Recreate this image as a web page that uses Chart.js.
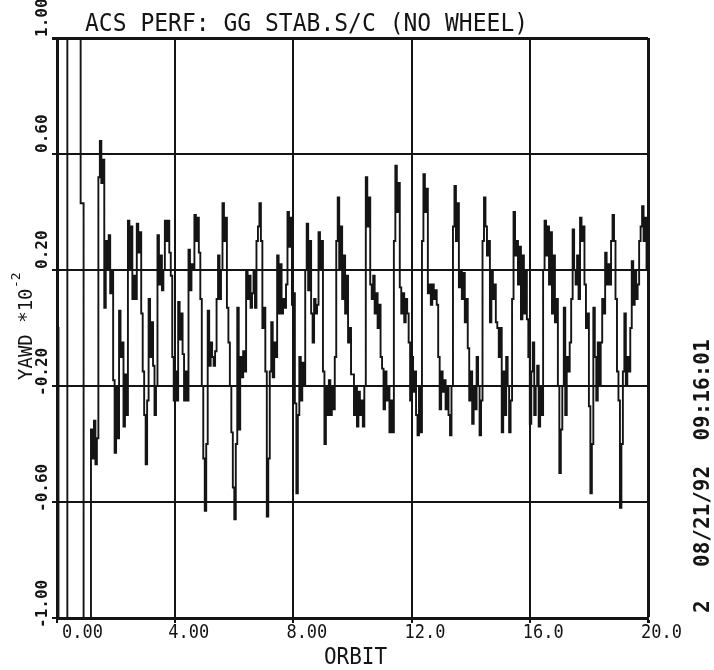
<!DOCTYPE html>
<html>
<head>
<meta charset="utf-8">
<script src="https://cdn.jsdelivr.net/npm/chart.js@4.4.1/dist/chart.umd.min.js"></script>
<style>
  html, body { margin: 0; padding: 0; background: #fff; }
  #wrap { width: 714px; height: 670px; position: relative; }
</style>
</head>
<body>
<div id="wrap"><canvas id="yawChart"></canvas></div>
<script>
// sample spacing of the plotted trace, in orbits
const SAMPLE_STEP = 0.05;

const xTicks = [0, 4, 8, 12, 16, 20];
const xTickLabels = ['0.00', '4.00', '8.00', '12.0', '16.0', '20.0'];
const yTicks = [-1, -0.6, -0.2, 0.2, 0.6, 1];
const yTickLabels = ['-1.00', '-0.60', '-0.20', '0.20', '0.60', '1.00'];

const titleText = 'ACS PERF: GG STAB.S/C (NO WHEEL)';
const xTitle = 'ORBIT';
const yTitle = 'YAWD *10';
const yTitleExp = '-2';
const stampText = '08/21/92  09:16:01';
const pageText = '2';

// YAWD (x1e-2), one row per orbit, 20 samples per orbit
const yawd = [
  0.0, -1.6, -1.6, -1.6, -1.6, -1.6, -1.6, 1.6, 1.6, 1.6, 1.6, 1.6, 1.6, 1.6, 1.6, 1.6, 0.43, 0.43, -1.6, -1.6,
  -1.6, -1.6, -1.6, -0.35, -0.45, -0.32, -0.47, -0.38, 0.52, 0.645, 0.5, 0.58, 0.07, 0.3, 0.2, 0.32, 0.12, 0.2, -0.18, -0.43,
  -0.2, -0.38, 0.06, -0.1, -0.05, -0.34, -0.16, -0.3, 0.37, 0.2, 0.35, 0.1, 0.18, 0.1, 0.36, 0.26, 0.33, 0.05, -0.15, -0.3,
  -0.47, -0.25, 0.1, -0.1, 0.02, -0.13, -0.3, -0.2, 0.32, 0.15, 0.25, 0.13, 0.2, 0.37, 0.3, 0.37, 0.26, 0.18, -0.1, -0.25,
  -0.15, -0.25, 0.09, -0.04, 0.05, -0.09, -0.25, -0.15, -0.25, 0.27, 0.13, 0.22, 0.2, 0.39, 0.3, 0.38, 0.26, 0.1, -0.2, -0.45,
  -0.63, -0.4, 0.06, -0.13, -0.05, -0.1, -0.13, -0.08, 0.1, 0.25, 0.1, 0.2, 0.43, 0.3, 0.38, 0.07, -0.05, -0.2, -0.36, -0.55,
  -0.66, -0.4, 0.07, -0.35, -0.1, -0.17, -0.08, -0.15, 0.2, 0.1, 0.18, 0.07, 0.12, 0.2, 0.07, 0.3, 0.35, 0.43, 0.3, 0.0,
  0.07, -0.15, -0.65, -0.45, -0.15, 0.02, -0.17, -0.05, -0.1, 0.25, 0.05, 0.22, 0.05, 0.1, 0.07, 0.15, 0.4, 0.28, 0.38, 0.08,
  0.12, -0.26, -0.57, -0.3, -0.1, -0.25, -0.12, -0.2, 0.2, 0.36, 0.13, 0.3, 0.05, -0.05, 0.1, 0.05, 0.08, 0.33, 0.2, 0.3,
  -0.15, -0.4, -0.2, -0.3, -0.18, -0.3, -0.2, -0.28, -0.1, 0.3, 0.45, 0.2, 0.35, 0.1, 0.25, 0.05, 0.18, -0.05, 0.0, -0.16,
  -0.16, -0.3, -0.2, -0.34, -0.22, -0.3, -0.25, -0.34, -0.2, 0.52, 0.35, 0.45, 0.15, 0.1, 0.18, 0.05, 0.12, 0.0, 0.08, -0.1,
  -0.14, -0.28, -0.15, -0.25, -0.2, -0.36, -0.25, -0.36, 0.3, 0.56, 0.4, 0.5, 0.14, 0.05, 0.12, 0.02, 0.1, 0.05, -0.05, -0.25,
  -0.1, -0.22, -0.15, -0.3, -0.37, -0.2, -0.36, 0.3, 0.53, 0.4, 0.48, 0.12, 0.15, 0.08, 0.15, 0.1, 0.13, 0.08, -0.1, -0.28,
  -0.15, -0.22, -0.18, -0.28, -0.2, -0.3, -0.37, -0.2, 0.35, 0.49, 0.3, 0.43, 0.14, 0.2, 0.1, 0.19, 0.02, 0.1, -0.07, -0.25,
  -0.15, -0.33, -0.2, -0.28, -0.1, -0.2, -0.37, -0.25, 0.3, 0.45, 0.35, 0.25, 0.3, 0.02, 0.2, 0.1, 0.15, 0.02, 0.0, -0.1,
  0.0, -0.36, -0.15, -0.3, -0.1, -0.2, -0.36, -0.25, 0.1, 0.4, 0.25, 0.3, 0.15, 0.28, 0.03, 0.25, 0.05, 0.2, 0.03, -0.1,
  -0.33, -0.15, -0.05, -0.3, -0.2, -0.13, -0.34, -0.2, -0.3, 0.2, 0.37, 0.25, 0.35, 0.15, 0.33, 0.05, 0.25, 0.02, 0.1, -0.2,
  -0.5, -0.35, -0.2, 0.07, -0.3, -0.1, -0.15, -0.05, 0.1, 0.34, 0.2, 0.15, 0.25, 0.1, 0.38, 0.3, 0.35, 0.15, 0.0, 0.05,
  -0.27, -0.57, -0.4, 0.07, -0.1, -0.25, -0.05, -0.2, -0.05, 0.1, 0.05, 0.26, 0.15, 0.22, 0.15, 0.3, 0.39, 0.3, 0.1, -0.15,
  -0.25, -0.62, -0.4, -0.15, 0.05, -0.2, -0.1, -0.15, 0.0, 0.23, 0.08, 0.2, 0.1, 0.15, 0.3, 0.35, 0.42, 0.3, 0.38, 0.2,
  0.15
];

const INK = '#141414';
const FONT = '"DejaVu Sans Mono", "Liberation Mono", monospace';

function plotText(ctx, str, x, y, o) {
  ctx.save();
  ctx.translate(x, y);
  if (o.rotate) ctx.rotate(o.rotate);
  ctx.scale(1, o.stretch || 1);
  ctx.font = (o.bold ? 'bold ' : '') + o.size + 'px ' + FONT;
  ctx.textAlign = o.align || 'left';
  ctx.textBaseline = 'alphabetic';
  ctx.fillStyle = INK;
  ctx.fillText(str, 0, 0);
  ctx.restore();
}

// texts of the plotter frame, placed from the chart's own scales
const frameText = {
  id: 'frameText',
  afterDraw(chart) {
    const ctx = chart.ctx;
    const xs = chart.scales.x;
    const ys = chart.scales.y;
    const up = -Math.PI / 2;

    plotText(ctx, titleText, 85, 31, { size: 23, stretch: 1.05 });

    xTicks.forEach((v, i) => {
      const px = xs.getPixelForValue(v);
      plotText(ctx, xTickLabels[i], i === 0 ? px + 5 : px - 7, ys.bottom + 20, { size: 17, stretch: 1.1 });
    });
    plotText(ctx, xTitle, xs.getPixelForValue(10) + 3, 664, { size: 21, stretch: 1.1, align: 'center' });

    yTicks.forEach((v, i) => {
      const py = ys.getPixelForValue(v);
      const start = v < 0 ? py + 10 : py - 1;
      plotText(ctx, yTickLabels[i], 47, start, { size: 16, bold: true, rotate: up });
    });
    plotText(ctx, yTitle, 32, 380, { size: 19, rotate: up });
    plotText(ctx, yTitleExp, 20, 288, { size: 13, rotate: up });

    plotText(ctx, stampText, 709, 567, { size: 21, bold: true, rotate: up });
    plotText(ctx, pageText, 709, 613, { size: 21, bold: true, rotate: up });
  }
};

const gridStyle = {
  color: INK,
  lineWidth: (c) => (c.tick && (c.tick.value === 1 || c.tick.value === 20) ? 3 : 2),
  tickLength: 5,
  drawTicks: true
};

new Chart(document.getElementById('yawChart'), {
  type: 'line',
  data: {
    datasets: [{
      data: yawd.map((v, i) => ({ x: i * SAMPLE_STEP, y: v })),
      borderColor: INK,
      borderWidth: 1.9,
      stepped: true,
      pointRadius: 0,
      fill: false
    }]
  },
  options: {
    responsive: true,
    maintainAspectRatio: false,
    animation: false,
    layout: { padding: { left: 52, right: 66, top: 38, bottom: 47 } },
    plugins: { legend: { display: false }, tooltip: { enabled: false } },
    scales: {
      x: {
        type: 'linear',
        min: 0,
        max: 20,
        afterBuildTicks: (s) => { s.ticks = xTicks.map(v => ({ value: v })); },
        ticks: { display: false },
        grid: gridStyle,
        border: { display: true, color: INK, width: 3 }
      },
      y: {
        type: 'linear',
        min: -1,
        max: 1,
        afterBuildTicks: (s) => { s.ticks = yTicks.map(v => ({ value: v })); },
        ticks: { display: false },
        grid: gridStyle,
        border: { display: true, color: INK, width: 3 }
      }
    }
  },
  plugins: [frameText]
});
</script>
</body>
</html>
